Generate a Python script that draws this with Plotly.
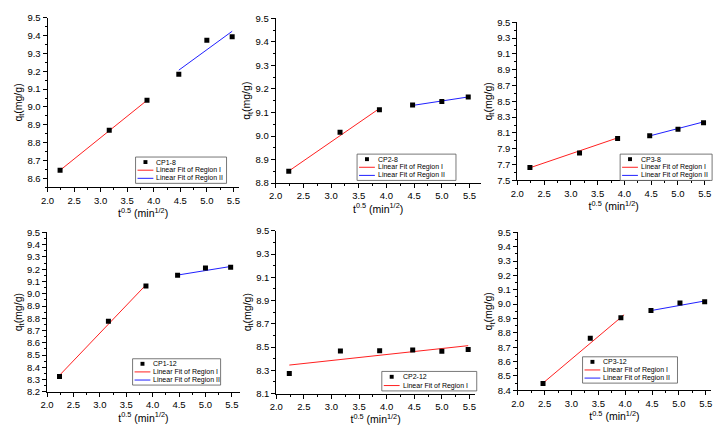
import plotly.graph_objects as go

W, H = 722, 431

# ---------------- data ----------------
t_half = [2.236, 3.162, 3.873, 4.472, 5.000, 5.477]
t_half_cp3_12 = [2.47, 3.35, 3.92, 4.48, 5.02, 5.48]

cp1_8 = [8.645, 8.870, 9.037, 9.183, 9.373, 9.393]
cp1_8_fit1_x = [2.236, 3.873]
cp1_8_fit1_y = [8.645, 9.037]
cp1_8_fit2_x = [4.472, 5.477]
cp1_8_fit2_y = [9.206, 9.424]

cp2_8 = [8.850, 9.016, 9.112, 9.132, 9.147, 9.166]
cp2_8_fit1_x = [2.236, 3.873]
cp2_8_fit1_y = [8.851, 9.117]
cp2_8_fit2_x = [4.472, 5.477]
cp2_8_fit2_y = [9.130, 9.166]

cp3_8 = [7.664, 7.847, 8.030, 8.065, 8.147, 8.230]
cp3_8_fit1_x = [2.236, 3.873]
cp3_8_fit1_y = [7.660, 8.038]
cp3_8_fit2_x = [4.472, 5.477]
cp3_8_fit2_y = [8.063, 8.240]

cp1_12 = [8.325, 8.775, 9.063, 9.150, 9.210, 9.215]
cp1_12_fit1_x = [2.236, 3.873]
cp1_12_fit1_y = [8.335, 9.072]
cp1_12_fit2_x = [4.472, 5.477]
cp1_12_fit2_y = [9.152, 9.222]

cp2_12 = [8.272, 8.466, 8.468, 8.474, 8.464, 8.478]
cp2_12_fit1_x = [2.236, 5.477]
cp2_12_fit1_y = [8.345, 8.512]

cp3_12 = [8.447, 8.762, 8.905, 8.956, 9.008, 9.016]
cp3_12_fit1_x = [2.47, 3.98]
cp3_12_fit1_y = [8.450, 8.926]
cp3_12_fit2_x = [4.48, 5.48]
cp3_12_fit2_y = [8.955, 9.022]

series_names = ["CP1-8", "CP2-8", "CP3-8", "CP1-12", "CP2-12", "CP3-12"]
fit_names = ["Linear Fit of Region I", "Linear Fit of Region II"]

y_ranges = [[8.55, 9.5], [8.8, 9.5], [7.5, 9.5], [8.2, 9.5], [8.1, 9.5], [8.4, 9.5]]
y_tick0 = [8.6, 8.8, 7.5, 8.2, 8.1, 8.4]
y_dticks = [0.1, 0.1, 0.2, 0.1, 0.2, 0.1]
x_ranges = [[2.0, 5.6], [2.0, 5.7], [2.0, 5.6], [2.0, 5.65], [2.0, 5.6], [2.0, 5.6]]

# ---------------- layout geometry (pixels) ----------------
# (left, right, top, bottom) of each plot area
boxes = [
    (41.0, 234.3, 12.0, 186.0),
    (271.7, 478.9, 12.7, 181.7),
    (516.0, 711.0, 16.7, 179.0),
    (40.5, 235.4, 232.3, 396.0),
    (272.3, 473.2, 230.7, 397.7),
    (516.5, 712.0, 232.3, 394.3),
]
# legend boxes (x0, y0, x1, y1) in pixels
legend_boxes = [
    (130, 155, 222, 182),
    (354, 152, 454, 179),
    (620, 152, 713, 179),
    (127, 362, 216, 389),
    (379, 375, 475, 395),
    (582, 360, 678, 387),
]

RED = "#ff2020"
BLUE = "#2020ff"
FONT = "Liberation Sans, Arial, sans-serif"

panels = [
    (t_half, cp1_8, [(cp1_8_fit1_x, cp1_8_fit1_y), (cp1_8_fit2_x, cp1_8_fit2_y)]),
    (t_half, cp2_8, [(cp2_8_fit1_x, cp2_8_fit1_y), (cp2_8_fit2_x, cp2_8_fit2_y)]),
    (t_half, cp3_8, [(cp3_8_fit1_x, cp3_8_fit1_y), (cp3_8_fit2_x, cp3_8_fit2_y)]),
    (t_half, cp1_12, [(cp1_12_fit1_x, cp1_12_fit1_y), (cp1_12_fit2_x, cp1_12_fit2_y)]),
    (t_half, cp2_12, [(cp2_12_fit1_x, cp2_12_fit1_y)]),
    (t_half_cp3_12, cp3_12, [(cp3_12_fit1_x, cp3_12_fit1_y), (cp3_12_fit2_x, cp3_12_fit2_y)]),
]
fit_colors = [RED, BLUE]


def px_x(p):
    return p / W


def px_y(p):
    return 1 - p / H


fig = go.Figure()
layout = dict(
    width=W, height=H, margin=dict(l=0, r=0, t=0, b=0),
    paper_bgcolor="white", plot_bgcolor="white", showlegend=False,
    font=dict(family=FONT, color="black"),
)
shapes = []
annotations = []

for i, (xs, ys, fits) in enumerate(panels):
    n = "" if i == 0 else str(i + 1)
    xa, ya = "x" + n, "y" + n
    l, r, t, b = boxes[i]
    ydt = y_dticks[i]
    layout["xaxis" + n] = dict(
        domain=[px_x(l), px_x(r)], range=x_ranges[i], anchor=ya,
        showline=True, linecolor="black", linewidth=1,
        ticks="outside", ticklen=4, tickwidth=1, tickcolor="black",
        tick0=2.0, dtick=0.5, tickformat=".1f",
        minor=dict(ticks="outside", ticklen=2, tick0=2.0, dtick=0.25, tickcolor="black", showgrid=False),
        showgrid=False, zeroline=False,
        tickfont=dict(size=9.5, family=FONT),
        title=dict(text="t<sup>0.5</sup> (min<sup>1/2</sup>)", font=dict(size=10.5, family=FONT), standoff=1),
    )
    layout["yaxis" + n] = dict(
        domain=[px_y(b), px_y(t)], range=y_ranges[i], anchor=xa,
        showline=True, linecolor="black", linewidth=1,
        ticks="outside", ticklen=4, tickwidth=1, tickcolor="black",
        tick0=y_tick0[i], dtick=ydt, tickformat=".1f",
        minor=dict(ticks="outside", ticklen=2, tick0=y_tick0[i], dtick=ydt / 2, tickcolor="black", showgrid=False),
        showgrid=False, zeroline=False,
        tickfont=dict(size=9.5, family=FONT),
        title=dict(text="q<sub>t</sub>(mg/g)", font=dict(size=10.5, family=FONT), standoff=2),
    )
    # fit lines
    for k, (fx, fy) in enumerate(fits):
        fig.add_trace(go.Scatter(x=fx, y=fy, mode="lines", xaxis=xa, yaxis=ya,
                                 line=dict(color=fit_colors[k], width=1),
                                 name=fit_names[k], hoverinfo="skip"))
    # data points
    fig.add_trace(go.Scatter(x=xs, y=ys, mode="markers", xaxis=xa, yaxis=ya,
                             marker=dict(symbol="square", size=5, color="black"),
                             name=series_names[i]))

    # compact Origin-style legend drawn with shapes + annotations
    lx0, ly0, lx1, ly1 = legend_boxes[i]
    shapes.append(dict(type="rect", xref="paper", yref="paper",
                       x0=px_x(lx0), x1=px_x(lx1), y0=px_y(ly1), y1=px_y(ly0),
                       line=dict(color="#555555", width=0.8), fillcolor="white", layer="above"))
    items = [("marker", series_names[i])] + [("line", fit_names[k]) for k in range(len(fits))]
    nrows = len(items)
    row_h = (ly1 - ly0 - 2) / nrows
    samp0, samp1 = lx0 + 2, lx0 + 18
    for j, (kind, label) in enumerate(items):
        cy = ly0 + 1 + row_h * (j + 0.5)
        if kind == "marker":
            cx = (samp0 + samp1) / 2
            shapes.append(dict(type="rect", xref="paper", yref="paper",
                               x0=px_x(cx - 2), x1=px_x(cx + 2), y0=px_y(cy + 2), y1=px_y(cy - 2),
                               line=dict(width=0), fillcolor="black", layer="above"))
        else:
            shapes.append(dict(type="line", xref="paper", yref="paper",
                               x0=px_x(samp0), x1=px_x(samp1), y0=px_y(cy), y1=px_y(cy),
                               line=dict(color=fit_colors[j - 1], width=1), layer="above"))
        annotations.append(dict(xref="paper", yref="paper", x=px_x(samp1 + 1), y=px_y(cy),
                                xanchor="left", yanchor="middle", showarrow=False,
                                text=label, font=dict(size=7, family=FONT, color="black")))

layout["shapes"] = shapes
layout["annotations"] = annotations
fig.update_layout(**layout)
fig.write_html("out.html")
